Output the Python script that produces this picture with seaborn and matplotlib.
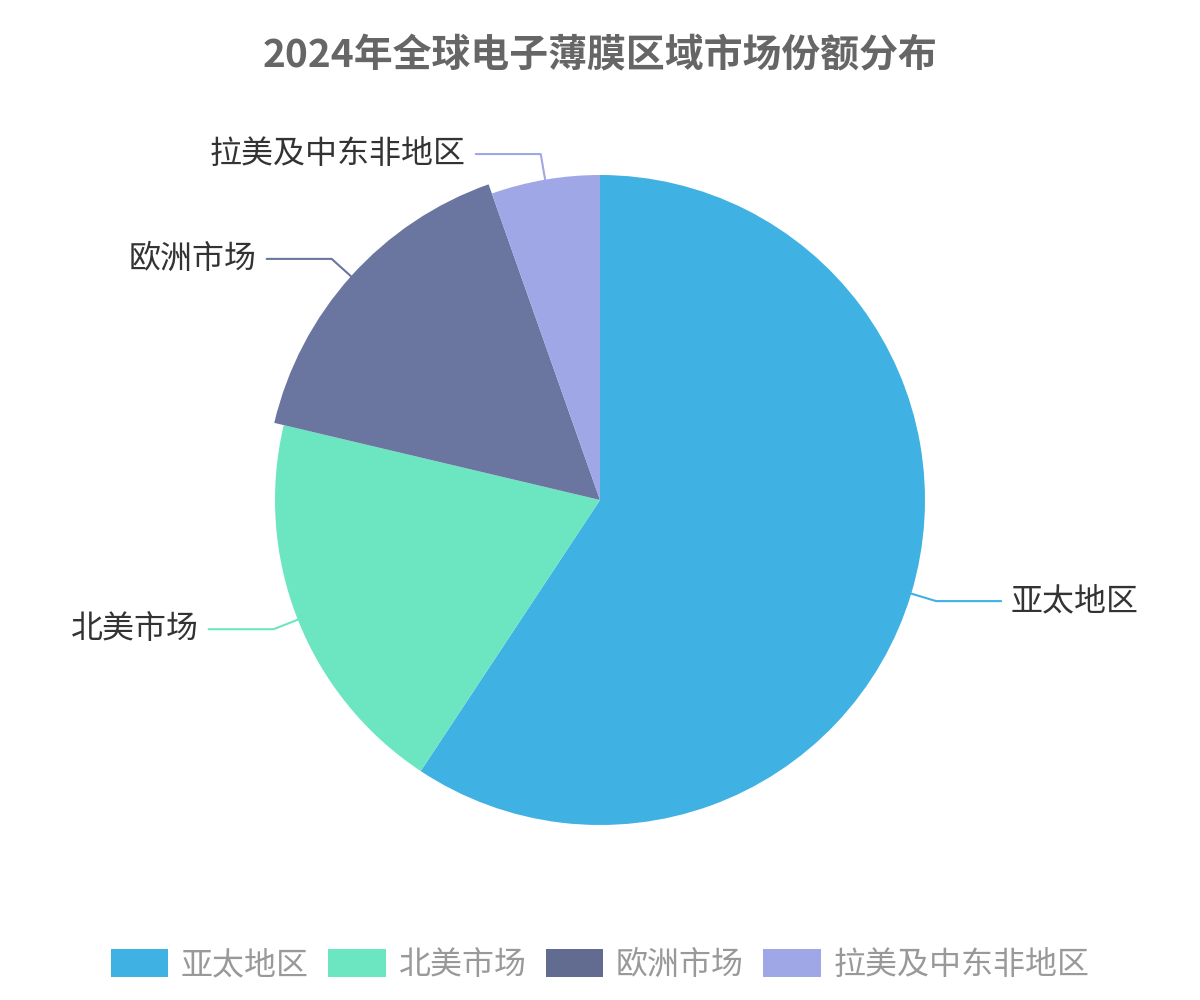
import matplotlib
matplotlib.use("Agg")
import matplotlib.pyplot as plt
import seaborn as sns
import numpy as np
from matplotlib.patches import Patch

sns.set_theme(style="white")
plt.rcParams['font.family'] = ['Noto Sans CJK SC', 'DejaVu Sans']

regions = ["亚太地区", "北美市场", "欧洲市场", "拉美及中东非地区"]
shares = [59.3, 19.4, 15.9, 5.4]
colors = ["#3fb1e3", "#6be6c1", "#6a76a0", "#a0a7e6"]
legend_colors = ["#3fb1e3", "#6be6c1", "#626c91", "#a0a7e6"]

fig = plt.figure(figsize=(12, 10), dpi=100)
ax = fig.add_axes([0, 0, 1, 1])
R = 325
ax.set_xlim(-600 / R, 600 / R)
ax.set_ylim(-500 / R, 500 / R)
ax.axis("off")

wedges, _ = ax.pie(shares, colors=colors, startangle=90, counterclock=False,
                   wedgeprops=dict(linewidth=0))
wedges[2].set_radius(1.03)
ax.set_xlim(-600 / R, 600 / R)
ax.set_ylim(-500 / R, 500 / R)

total = sum(shares)
cum = 0
for i, (name, v) in enumerate(zip(regions, shares)):
    mid = 90 - (cum + v / 2) / total * 360
    cum += v
    a = np.deg2rad(mid)
    r0 = wedges[i].r
    p0 = (r0 * np.cos(a), r0 * np.sin(a))
    p1 = ((r0 + 0.08) * np.cos(a), (r0 + 0.08) * np.sin(a))
    sgn = 1 if np.cos(a) >= 0 else -1
    p2 = (p1[0] + sgn * 0.2, p1[1])
    ax.plot([p0[0], p1[0], p2[0]], [p0[1], p1[1], p2[1]], color=colors[i], lw=1.5)
    ax.text(p2[0] + sgn * 0.03, p2[1], name, ha="left" if sgn > 0 else "right",
            va="center", fontsize=23, color="#333333")

fig.text(0.5, 0.945, "2024年全球电子薄膜区域市场份额分布", ha="center", va="center",
         fontsize=28, fontweight="bold", color="#666666")

handles = [Patch(facecolor=c, edgecolor="none") for c in legend_colors]
fig.legend(handles, regions, loc="center", bbox_to_anchor=(0.5, 0.035), ncol=4,
           frameon=False, fontsize=23, labelcolor="#999999", handlelength=1.8,
           handleheight=1.0, columnspacing=0.6, handletextpad=0.4)

fig.savefig("out.png", dpi=100)
